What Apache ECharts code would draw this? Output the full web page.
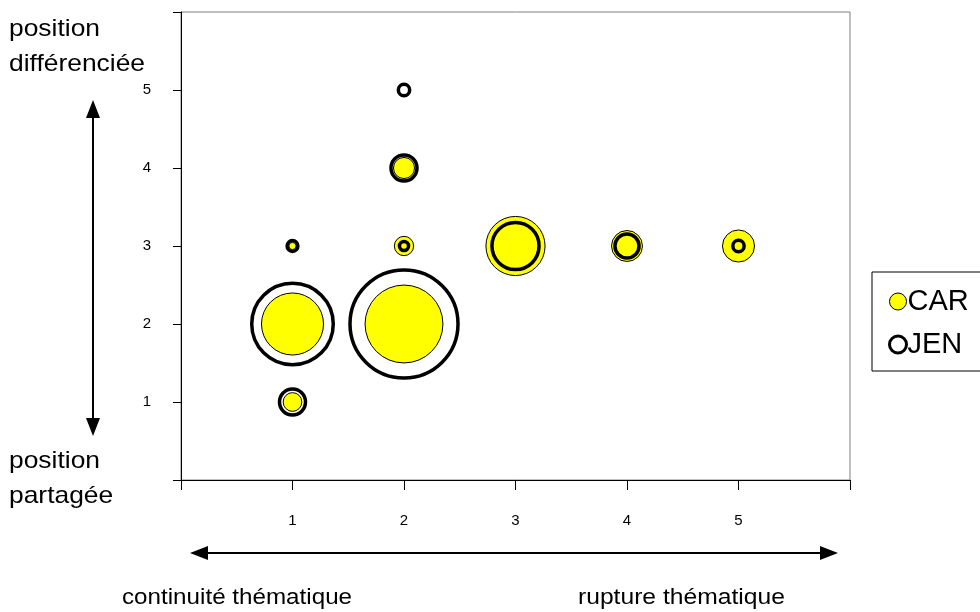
<!DOCTYPE html>
<html><head><meta charset="utf-8">
<script src="https://cdn.jsdelivr.net/npm/echarts@6/dist/echarts.min.js"></script>
<style>html,body{margin:0;padding:0;background:#fff}#c{width:980px;height:612px}</style>
</head><body><div id="c"></div>
<script>
// [x, y, size]
const carData = [[1,1,3],[1,2,33],[1,3,0.45],[2,2,52],[2,3,3.2],[2,4,3.8],[3,3,30],[4,3,8.2],[5,3,8.8]];
const jenData = [[1,1,5.8],[1,2,57],[1,3,1],[2,2,100],[2,3,0.7],[2,4,5.8],[2,5,1.1],[3,3,19],[4,3,5],[5,3,1.1]];
const xTickLabels = ['', '1', '2', '3', '4', '5', ''];
const yTickLabels = ['', '1', '2', '3', '4', '5', ''];
const seriesNames = ['CAR', 'JEN'];

const FONT = 'Liberation Sans, Arial, sans-serif';
const maxDiam = 108;
const sizeFn = v => maxDiam * Math.sqrt(v[2] / 100);

function label(x, y, text, size, sx) {
  return {type: 'text', x: x, y: y, scaleX: sx, scaleY: 1,
    style: {text: text, font: size + 'px ' + FONT, fill: '#000', lineHeight: 35, verticalAlign: 'top', align: 'left'}};
}

const chart = echarts.init(document.getElementById('c'));
chart.setOption({
  animation: false,
  textStyle: {fontFamily: FONT},
  grid: {left: 181, right: 130, top: 12, bottom: 132, show: true, borderColor: '#808080', borderWidth: 1, backgroundColor: '#fff'},
  xAxis: {
    type: 'value', min: 0, max: 6, interval: 1,
    axisLine: {show: true, onZero: false, lineStyle: {color: '#000', width: 1}},
    axisTick: {show: true, length: 10, lineStyle: {color: '#000'}},
    splitLine: {show: false},
    axisLabel: {margin: 33, fontSize: 15, color: '#000', fontFamily: FONT, formatter: v => xTickLabels[Math.round(v)] || ''}
  },
  yAxis: {
    type: 'value', min: 0, max: 6, interval: 1,
    axisLine: {show: true, onZero: false, lineStyle: {color: '#000', width: 1}},
    axisTick: {show: true, length: 8, lineStyle: {color: '#000'}},
    splitLine: {show: false},
    axisLabel: {margin: 30, fontSize: 15, color: '#000', fontFamily: FONT, formatter: v => yTickLabels[Math.round(v)] || ''}
  },
  legend: {
    orient: 'vertical', left: 872, top: 272,
    borderColor: '#000', borderWidth: 1,
    padding: [15, 40, 12, 16],
    itemGap: 14, itemWidth: 17, itemHeight: 17,
    textStyle: {fontSize: 29, color: '#000', fontFamily: FONT, padding: [0, 0, 0, -4]},
    data: [
      {name: seriesNames[0], icon: 'circle', itemStyle: {color: '#ffff00', borderColor: '#000', borderWidth: 1}},
      {name: seriesNames[1], icon: 'circle', itemStyle: {color: '#fff', borderColor: '#000', borderWidth: 3}}
    ]
  },
  series: [
    {name: seriesNames[0], type: 'scatter', data: carData, symbol: 'circle', symbolSize: sizeFn,
     itemStyle: {color: '#ffff00', borderColor: '#000', borderWidth: 1, opacity: 1}, z: 2},
    {name: seriesNames[1], type: 'scatter', data: jenData, symbol: 'circle', symbolSize: sizeFn,
     itemStyle: {color: 'rgba(255,255,255,0)', borderColor: '#000', borderWidth: 3.5, opacity: 1}, z: 3}
  ],
  graphic: [
    label(9, 12, 'position\ndifférenciée', 24, 1.1),
    label(9, 444, 'position\npartagée', 24, 1.1),
    label(122, 580, 'continuité thématique', 22, 1.1),
    label(578, 580, 'rupture thématique', 22, 1.12),
    {type: 'line', shape: {x1: 93, y1: 112, x2: 93, y2: 424}, style: {stroke: '#000', lineWidth: 2}},
    {type: 'polygon', shape: {points: [[93, 100], [86, 118], [100, 118]]}, style: {fill: '#000'}},
    {type: 'polygon', shape: {points: [[93, 436], [86, 418], [100, 418]]}, style: {fill: '#000'}},
    {type: 'line', shape: {x1: 202, y1: 553, x2: 826, y2: 553}, style: {stroke: '#000', lineWidth: 2}},
    {type: 'polygon', shape: {points: [[190, 553], [208, 546], [208, 560]]}, style: {fill: '#000'}},
    {type: 'polygon', shape: {points: [[838, 553], [820, 546], [820, 560]]}, style: {fill: '#000'}}
  ]
});
</script></body></html>
